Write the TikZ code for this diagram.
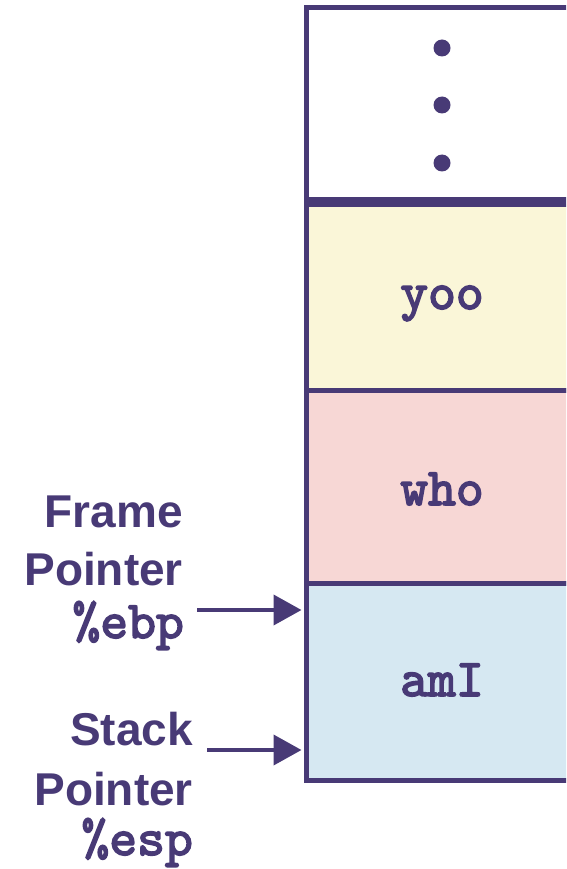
\documentclass[tikz,border=0pt]{standalone}
\usepackage{fontspec}
\setmainfont{Liberation Sans}
\newfontfamily\regfont{lmmono10-regular.otf}[FakeBold=3]
\usetikzlibrary{arrows.meta}

\definecolor{stackpurple}{RGB}{72,58,118}
\definecolor{yoofill}{RGB}{250,246,216}
\definecolor{whofill}{RGB}{247,215,213}
\definecolor{amifill}{RGB}{214,232,242}

\begin{document}
\begin{tikzpicture}[x=1pt,y=-1pt,
  slot/.style={draw=stackpurple,line width=5pt,minimum width=272pt,inner sep=0pt},
  word/.style={anchor=base,inner sep=0pt,text=stackpurple,
    font=\fontsize{53}{53}\selectfont\regfont},
  lbl/.style={anchor=base east,inner sep=0pt,text=stackpurple,
    font=\fontsize{46}{46}\selectfont\bfseries},
  reg/.style={anchor=base east,inner sep=0pt,text=stackpurple,
    font=\fontsize{53}{53}\selectfont\regfont},
  ptr/.style={draw=stackpurple,line width=4pt,shorten >=2pt,-{Triangle[length=28pt,width=30pt]}}]

\useasboundingbox (0,0) rectangle (566,869);
\clip (0,0) rectangle (566,869);

% stack slots
\node[slot,fill=white,minimum height=191pt] (more) at (442,103.5) {};
\foreach \y in {48,105,163}
  \fill[stackpurple] (442,\y) circle (8.5pt);

\node[slot,fill=yoofill,minimum height=186pt] (yoo) at (442,297) {};
\node[slot,fill=whofill,minimum height=193pt] (who) at (442,486.5) {};
\node[slot,fill=amifill,minimum height=197pt] (ami) at (442,681.5) {};

\node[word] (yootext) at (442,309) {yoo};
\node[word] (whotext) at (442,505) {who};
\node[word] (amitext) at (442,696) {amI};

% frame pointer
\node[lbl] (fp1) at (183,527) {Frame};
\node[lbl] (fp2) at (183,585) {Pointer};
\node[reg] (ebp) at (184,638) {\%ebp};
\coordinate (ebptail) at (197,610);
\draw[ptr] (ebptail) -- (ebptail -| ami.west);

% stack pointer
\node[lbl] (sp1) at (193,745) {Stack};
\node[lbl] (sp2) at (193,805) {Pointer};
\node[reg] (esp) at (193,855) {\%esp};
\coordinate (esptail) at (207,750);
\draw[ptr] (esptail) -- (esptail -| ami.west);

\end{tikzpicture}
\end{document}
